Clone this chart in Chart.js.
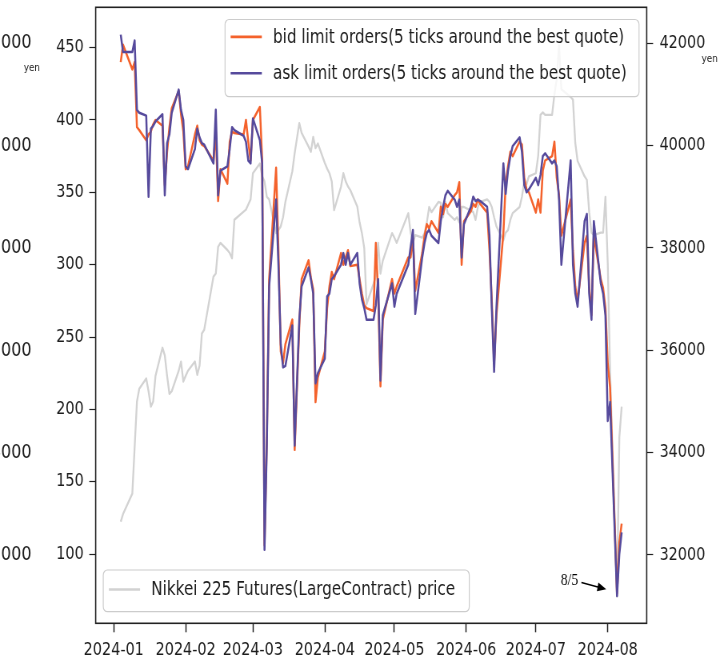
<!DOCTYPE html>
<html>
<head>
<meta charset="utf-8">
<script src="https://cdn.jsdelivr.net/npm/chart.js@4.4.1/dist/chart.umd.min.js"></script>
<style>
  html, body { margin: 0; padding: 0; background: #fff; overflow: hidden; width: 718px; height: 660px; }
  #c { display: block; transform: scaleX(0.8); transform-origin: 0 0; }
</style>
</head>
<body>
<canvas id="c" width="898" height="660"></canvas>
<script>
// Trading days, 2024
const tradingDays = [
  '2024-01-04','2024-01-05','2024-01-09','2024-01-10','2024-01-11','2024-01-12','2024-01-15','2024-01-16','2024-01-17','2024-01-18',
  '2024-01-19','2024-01-22','2024-01-23','2024-01-24','2024-01-25','2024-01-26','2024-01-29','2024-01-30','2024-01-31',
  '2024-02-01','2024-02-02','2024-02-05','2024-02-06','2024-02-07','2024-02-08','2024-02-09','2024-02-13','2024-02-14','2024-02-15',
  '2024-02-16','2024-02-19','2024-02-20','2024-02-21','2024-02-22','2024-02-26','2024-02-27','2024-02-28','2024-02-29',
  '2024-03-01','2024-03-04','2024-03-05','2024-03-06','2024-03-07','2024-03-08','2024-03-11','2024-03-12','2024-03-13','2024-03-14',
  '2024-03-15','2024-03-18','2024-03-19','2024-03-21','2024-03-22','2024-03-25','2024-03-26','2024-03-27','2024-03-28','2024-03-29',
  '2024-04-01','2024-04-02','2024-04-03','2024-04-04','2024-04-05','2024-04-08','2024-04-09','2024-04-10','2024-04-11','2024-04-12',
  '2024-04-15','2024-04-16','2024-04-17','2024-04-18','2024-04-19','2024-04-22','2024-04-23','2024-04-24','2024-04-25','2024-04-26','2024-04-30',
  '2024-05-01','2024-05-02','2024-05-07','2024-05-08','2024-05-09','2024-05-10','2024-05-13','2024-05-14','2024-05-15','2024-05-16',
  '2024-05-17','2024-05-20','2024-05-21','2024-05-22','2024-05-23','2024-05-24','2024-05-27','2024-05-28','2024-05-29','2024-05-30','2024-05-31',
  '2024-06-03','2024-06-04','2024-06-05','2024-06-06','2024-06-07','2024-06-10','2024-06-11','2024-06-12','2024-06-13','2024-06-14',
  '2024-06-17','2024-06-18','2024-06-19','2024-06-20','2024-06-21','2024-06-24','2024-06-25','2024-06-26','2024-06-27','2024-06-28',
  '2024-07-01','2024-07-02','2024-07-03','2024-07-04','2024-07-05','2024-07-08','2024-07-09','2024-07-10','2024-07-11','2024-07-12',
  '2024-07-16','2024-07-17','2024-07-18','2024-07-19','2024-07-22','2024-07-23','2024-07-24','2024-07-25','2024-07-26','2024-07-29','2024-07-30','2024-07-31',
  '2024-08-01','2024-08-02','2024-08-05','2024-08-06','2024-08-07'
];

// Bid-side limit orders, 5 ticks around the best quote
const bidOrders = [
  440,452,435,440,395,393,386,390,392,397,400,396,355,378,395,408,420,404,392,
  366,368,390,396,386,383,382,372,392,344,366,356,385,392,391,390,400,385,372,
  400,409,372,106,180,290,367,310,240,232,245,262,172,258,290,303,291,283,205,222,
  240,270,285,295,290,308,300,305,310,299,300,290,280,272,270,268,315,280,216,262,290,
  280,285,305,305,318,282,308,320,328,325,330,322,340,335,342,340,348,350,357,300,330,
  337,342,340,345,342,336,310,275,232,265,322,356,368,378,375,385,383,360,352,350,
  336,345,336,365,372,375,385,360,348,320,345,310,285,275,315,320,285,265,320,290,284,270,
  232,215,73,108,121
];

// Ask-side limit orders, 5 ticks around the best quote
const askOrders = [
  459,447,447,455,407,405,403,347,394,396,399,404,348,384,390,405,421,407,400,
  368,366,380,394,388,384,383,370,407,348,365,368,380,395,393,389,385,372,370,
  401,386,370,103,175,285,345,300,245,229,230,258,175,262,285,298,290,280,218,225,
  235,278,280,290,292,300,308,300,308,300,308,287,276,270,262,262,272,290,220,265,287,
  271,280,300,312,324,266,305,315,322,324,320,315,330,340,348,351,345,340,345,305,328,
  340,347,344,345,344,340,320,270,226,270,370,349,365,375,382,388,378,355,350,352,
  360,355,362,375,377,370,372,368,345,300,372,300,280,271,330,335,280,262,330,287,280,265,
  192,205,71,100,115
];

// Nikkei 225 futures (large contract), yen
const nikkeiFutures = [
  32650,32800,33200,34100,35000,35250,35450,35200,34900,35000,35500,36050,35900,35500,35150,35200,35600,35780,35390,
  35500,35600,35780,35520,35700,36330,36400,37440,37500,38020,38100,37960,37900,37800,38550,38710,38750,38850,38950,
  39460,39650,39400,39300,39000,38950,38290,38350,38420,38600,38900,39500,39850,40440,40250,39980,39880,40170,39950,40040,
  39660,39550,39460,39300,38740,39200,39460,39300,39200,39130,38810,38500,38290,38000,36900,37300,37450,38100,37500,37750,38290,
  38200,38100,38680,38300,38100,38250,38200,38290,38500,38800,38700,38900,38880,38600,38900,38680,38550,38600,38500,38800,38800,
  38730,38700,38550,38800,38900,38950,38900,38800,38600,38420,38150,38300,38350,38550,38680,38800,39000,39300,39250,39400,
  39460,39800,40600,40650,40600,40600,41000,41300,41960,41100,40950,40900,40050,39700,39400,39330,38700,38300,38250,38300,38300,39000,
  37700,35600,31185,34300,34900
];

const orderTicks = [100, 150, 200, 250, 300, 350, 400, 450];
const priceTicks = [32000, 34000, 36000, 38000, 40000, 42000];
const monthLabels = ['2024-01','2024-02','2024-03','2024-04','2024-05','2024-06','2024-07','2024-08'];
const markedDay = '2024-08-05';
const markedLabel = '8/5';

const bidLabel = 'bid limit orders(5 ticks around the best quote)';
const askLabel = 'ask limit orders(5 ticks around the best quote)';
const futLabel = 'Nikkei 225 Futures(LargeContract) price';

const BID_COLOR = '#f4622c';
const ASK_COLOR = '#564a9c';
const FUT_COLOR = '#d2d2d2';
const TEXT = '#1c1c1c';
const FONT = '"DejaVu Sans", sans-serif';

// days elapsed since 2024-01-01
function dayIndex(s) {
  const p = s.split('-').map(Number);
  return (Date.UTC(p[0], p[1] - 1, p[2] || 1) - Date.UTC(2024, 0, 1)) / 864e5;
}
const xs = tradingDays.map(dayIndex);
const series = vals => vals.map((v, i) => ({ x: xs[i], y: v }));

function boxPath(ctx, x, y, w, h, r) {
  ctx.beginPath();
  ctx.moveTo(x + r, y);
  ctx.arcTo(x + w, y, x + w, y + h, r);
  ctx.arcTo(x + w, y + h, x, y + h, r);
  ctx.arcTo(x, y + h, x, y, r);
  ctx.arcTo(x, y, x + w, y, r);
  ctx.closePath();
}

function drawLegend(ctx, x, y, w, h, entries) {
  ctx.save();
  boxPath(ctx, x, y, w, h, 5);
  ctx.fillStyle = 'rgba(255,255,255,0.8)';
  ctx.fill();
  ctx.strokeStyle = '#cccccc';
  ctx.lineWidth = 1.2;
  ctx.stroke();
  ctx.font = '19px ' + FONT;
  ctx.textAlign = 'left';
  ctx.textBaseline = 'middle';
  entries.forEach(e => {
    ctx.strokeStyle = e.color;
    ctx.lineWidth = 2.6;
    ctx.beginPath();
    ctx.moveTo(x + 7, y + e.dy);
    ctx.lineTo(x + 46, y + e.dy);
    ctx.stroke();
    ctx.fillStyle = TEXT;
    ctx.fillText(e.text, x + 60, y + e.dy + 1);
  });
  ctx.restore();
}

// axis sizes are fixed, and label overhang is not allowed to push the plot area
function fixSize(prop, size) {
  return s => {
    s[prop] = size;
    s.paddingTop = 0; s.paddingBottom = 0; s.paddingLeft = 0; s.paddingRight = 0;
  };
}

const overlays = {
  id: 'overlays',
  afterDatasetsDraw(chart) {
    const { ctx, chartArea: a } = chart;
    ctx.save();
    ctx.strokeStyle = '#222';
    ctx.lineWidth = 1.6;
    ctx.strokeRect(a.left, a.top, a.right - a.left, a.bottom - a.top);
    ctx.restore();

    drawLegend(ctx, a.right - 9.6 - 517.5, a.top + 12.2, 517.5, 77.2, [
      { color: BID_COLOR, text: bidLabel, dy: 17.4 },
      { color: ASK_COLOR, text: askLabel, dy: 53.8 }
    ]);
    drawLegend(ctx, a.left + 9.5, a.bottom - 11.6 - 41.7, 457.5, 41.7, [
      { color: FUT_COLOR, text: futLabel, dy: 19.5 }
    ]);
  },
  afterDraw(chart) {
    const { ctx, scales } = chart;
    const y2 = scales.y2;

    // neighbouring panel's price axis, cut at the left edge
    ctx.save();
    ctx.fillStyle = TEXT;
    ctx.font = '20px ' + FONT;
    ctx.textAlign = 'right';
    ctx.textBaseline = 'middle';
    priceTicks.forEach(v => ctx.fillText(String(v), 39.4, y2.getPixelForValue(v)));
    const top = y2.getPixelForValue(42000);
    ctx.font = '11px ' + FONT;
    ctx.fillText('yen', 50, top + 25);
    ctx.textAlign = 'left';
    ctx.fillText('yen', 877, top + 16);
    ctx.restore();

    // 8/5 marker
    const i = tradingDays.indexOf(markedDay);
    const px = scales.x.getPixelForValue(xs[i]);
    const py = scales.y.getPixelForValue(Math.min(bidOrders[i], askOrders[i]));
    const tipX = px - 13.5, tipY = py - 6.7;
    const tailX = tipX - 31, tailY = tipY - 6.7;
    ctx.save();
    ctx.strokeStyle = '#000';
    ctx.fillStyle = '#000';
    ctx.lineWidth = 1.6;
    ctx.beginPath();
    ctx.moveTo(tailX, tailY);
    ctx.lineTo(tipX - 6, tipY - 1.3);
    ctx.stroke();
    const ang = Math.atan2(tipY - tailY, tipX - tailX);
    ctx.beginPath();
    ctx.moveTo(tipX, tipY);
    ctx.lineTo(tipX - 11 * Math.cos(ang) + 4.5 * Math.sin(ang), tipY - 11 * Math.sin(ang) - 4.5 * Math.cos(ang));
    ctx.lineTo(tipX - 11 * Math.cos(ang) - 4.5 * Math.sin(ang), tipY - 11 * Math.sin(ang) + 4.5 * Math.cos(ang));
    ctx.closePath();
    ctx.fill();
    ctx.font = '17px "Liberation Serif", serif';
    ctx.textAlign = 'right';
    ctx.textBaseline = 'middle';
    ctx.fillText(markedLabel, tailX - 4, tailY - 2);
    ctx.restore();
  }
};

const tickFont = { family: FONT, size: 18 };

new Chart(document.getElementById('c'), {
  type: 'line',
  data: {
    datasets: [
      { label: bidLabel, data: series(bidOrders), yAxisID: 'y', borderColor: BID_COLOR, borderWidth: 2.5, order: 1 },
      { label: askLabel, data: series(askOrders), yAxisID: 'y', borderColor: ASK_COLOR, borderWidth: 2.5, order: 0 },
      { label: futLabel, data: series(nikkeiFutures), yAxisID: 'y2', borderColor: FUT_COLOR, borderWidth: 2.3, order: 2 }
    ]
  },
  options: {
    responsive: false,
    animation: false,
    devicePixelRatio: 1,
    elements: {
      point: { radius: 0, hoverRadius: 0 },
      line: { tension: 0, fill: false, borderJoinStyle: 'round' }
    },
    layout: { padding: { top: 7.3, left: 0, right: 0, bottom: 0 } },
    plugins: { legend: { display: false }, tooltip: { enabled: false } },
    events: [],
    scales: {
      x: {
        type: 'linear',
        min: -7.8,
        max: 229.8,
        afterBuildTicks: s => { s.ticks = monthLabels.map(m => ({ value: dayIndex(m) })); },
        afterFit: fixSize('height', 36.7),
        ticks: {
          callback: (v, i) => monthLabels[i],
          font: tickFont, color: TEXT, padding: 7,
          autoSkip: false, maxRotation: 0, minRotation: 0
        },
        grid: { drawOnChartArea: false, drawTicks: true, tickLength: 9, tickWidth: 1.5, tickColor: '#222' },
        border: { display: false }
      },
      y: {
        type: 'linear',
        position: 'left',
        min: 52.1,
        max: 477.9,
        afterBuildTicks: s => { s.ticks = orderTicks.map(v => ({ value: v })); },
        afterFit: fixSize('width', 119.6),
        ticks: { callback: v => String(v), font: tickFont, color: TEXT, padding: 7 },
        grid: { drawOnChartArea: false, drawTicks: true, tickLength: 8, tickWidth: 1.2, tickColor: '#222' },
        border: { display: false }
      },
      y2: {
        type: 'linear',
        position: 'right',
        min: 30665,
        max: 42703,
        afterBuildTicks: s => { s.ticks = priceTicks.map(v => ({ value: v })); },
        afterFit: fixSize('width', 89.6),
        ticks: { callback: v => String(v), font: tickFont, color: TEXT, padding: 8 },
        grid: { drawOnChartArea: false, drawTicks: true, tickLength: 8, tickWidth: 1.2, tickColor: '#222' },
        border: { display: false }
      }
    }
  },
  plugins: [overlays]
});
</script>
</body>
</html>
